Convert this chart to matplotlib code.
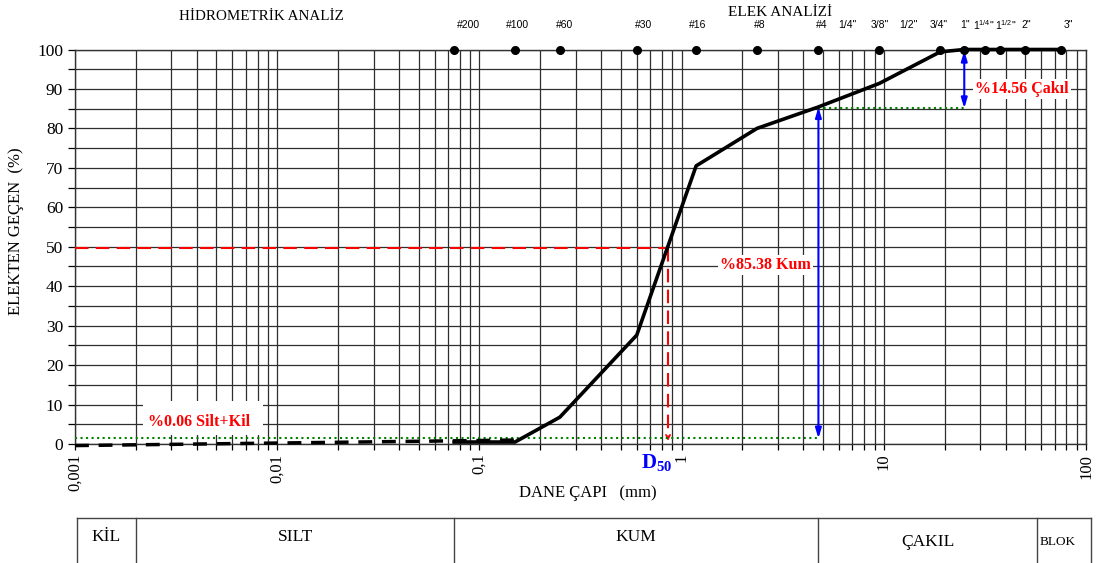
import numpy as np
import matplotlib.pyplot as plt
from matplotlib.patches import Rectangle
from matplotlib.lines import Line2D
from matplotlib.transforms import blended_transform_factory

plt.rcParams['font.family'] = ['Liberation Serif', 'DejaVu Serif']
plt.rcParams['mathtext.fontset'] = 'custom'
plt.rcParams['mathtext.rm'] = 'Liberation Sans'
plt.rcParams['mathtext.bf'] = 'Liberation Serif:bold'

# sieve analysis (grain size mm, % passing)
sieve_mm = [75, 50, 37.5, 31.5, 25, 19, 9.5, 4.75, 2.36, 1.18, 0.6, 0.25, 0.15, 0.075]
passing = [100, 100, 100, 100, 100, 99.4, 91.4, 85.44, 80.0, 70.5, 27.6, 6.8, 0.5, 0.5]

# hydrometer part (dashed)
hydro_mm = [0.001, 0.15]
hydro_pass = [-0.4, 1.0]

# sieve names on top and where their labels sit (mm)
sieve_names = ['#200', '#100', '#60', '#30', '#16', '#8', '#4', '1/4"', '3/8"', '1/2"',
               '3/4"', '1"', '1$^{1/4}$"', '1$^{1/2}$"', '2"', '3"']
label_mm = [0.088, 0.1535, 0.265, 0.652, 1.206, 2.44, 4.95, 6.58, 9.57, 13.3,
            18.7, 25.2, 31.3, 39.9, 50.5, 81.4]
dot_sizes = [0.075, 0.15, 0.25, 0.6, 1.18, 2.36, 4.75, 9.5, 19, 25, 31.5, 37.5, 50, 75]

d50 = 0.857
fines_line = 1.4
gravel_line = 85.1
no4 = 4.75
one_inch = 25

# soil classes table under the chart
class_edges = [0.001023, 0.002, 0.075, 4.75, 57, 105.8]
class_names = ['KİL', 'SILT', 'KUM', 'ÇAKIL', 'BLOK']

W, H = 1097, 563
fig = plt.figure(figsize=(W / 100, H / 100), dpi=100)
ax = fig.add_axes([75 / W, (H - 444) / H, 1011 / W, 394.5 / H])

ax.set_xscale('log')
ax.set_xlim(0.001, 100)
ax.set_ylim(0, 100)

ax.set_xticks([0.001, 0.01, 0.1, 1, 10, 100])
ax.set_xticklabels(['0,001', '0,01', '0,1', '1', '10', '100'], rotation=90, fontsize=12)
ax.set_yticks(np.arange(0, 101, 10))
ax.set_yticks(np.arange(5, 100, 10), minor=True)
ax.tick_params(axis='y', labelsize=12.5, length=5, which='both', width=0.9)
ax.tick_params(axis='x', which='both', length=4, width=0.9, pad=3)
ax.tick_params(axis='x', which='minor', labelbottom=False)
ax.grid(True, which='both', color='#2e2e2e', lw=0.9)
for s in ax.spines.values():
    s.set_color('#333333')
    s.set_linewidth(1)

# curves
ax.plot(hydro_mm, hydro_pass, color='black', lw=2.5, ls=(0, (4, 2.8)), zorder=5, clip_on=False)
ax.plot(sieve_mm, passing, color='black', lw=2.6, zorder=6, clip_on=False)
ax.plot(dot_sizes, [100] * len(dot_sizes), 'o', color='black', ms=5.5, zorder=7, clip_on=False)

for name, s in zip(sieve_names, label_mm):
    ax.text(s, 106.2, name, family='Liberation Sans', fontsize=7.5,
            ha='center', va='center', clip_on=False)

# D50 lines
ax.plot([0.001, d50], [49.8, 49.8], color='red', lw=1.5, ls=(0, (6.5, 3.5)), zorder=4)
ax.plot([d50, d50], [49.8, 1.5], color='red', lw=1.5, ls=(0, (6.5, 3.5)), zorder=4)
ax.annotate('', xy=(d50, 0.1), xytext=(d50, 2.5),
            arrowprops=dict(arrowstyle='->,head_length=0.3,head_width=0.15', color='red', lw=1.2),
            zorder=4)
ax.text(d50 * 0.88, -4.6, r'$\mathbf{D_{50}}$', color='blue', fontsize=15,
        ha='center', va='center', clip_on=False)

# green reference lines
ax.plot([0.001, no4], [fines_line, fines_line], color='green', lw=1.5, ls=':', zorder=4)
ax.plot([no4, one_inch], [gravel_line, gravel_line], color='green', lw=1.5, ls=':', zorder=4)

# blue arrows
arw = dict(arrowstyle='<|-|>,head_length=0.6,head_width=0.18', color='blue', lw=1.5,
           shrinkA=0, shrinkB=0)
ax.annotate('', xy=(no4, 85.4), xytext=(no4, fines_line), arrowprops=arw, zorder=6)
ax.annotate('', xy=(one_inch, 99.7), xytext=(one_inch, gravel_line), arrowprops=arw, zorder=6)

# percentage labels
ax.text(2.60, 45.4, '%85.38 Kum', color='red', fontsize=11.5, fontweight='bold',
        ha='center', va='center', zorder=8,
        bbox=dict(facecolor='white', edgecolor='none', pad=1.5))
ax.text(48.1, 90, '%14.56 Çakıl', color='red', fontsize=11.5, fontweight='bold',
        ha='center', va='center', zorder=8,
        bbox=dict(facecolor='white', edgecolor='none', pad=1.5))
ax.add_patch(Rectangle((0.00217, 2.3), 0.00852 - 0.00217, 8.7, facecolor='white',
                       edgecolor='none', zorder=3))
ax.text(0.0041, 5.7, '%0.06 Silt+Kil', color='red', fontsize=11.5, fontweight='bold',
        ha='center', va='center', zorder=8)

# titles and axis labels
fig.text(261 / W, 1 - 16 / H, 'HİDROMETRİK ANALİZ', fontsize=10.8, ha='center', va='center')
fig.text(780 / W, 1 - 12 / H, 'ELEK ANALİZİ', fontsize=11, ha='center', va='center')
fig.text(16 / W, (H - 231) / H, 'ELEKTEN GEÇEN  (%)', fontsize=12, rotation=90,
         ha='center', va='center')
fig.text(588 / W, (H - 493) / H, 'DANE ÇAPI   (mm)', fontsize=12, ha='center', va='center')

# soil class table
tr = blended_transform_factory(ax.transData, fig.transFigure)
top = (H - 518) / H
fig.add_artist(Line2D([class_edges[0], class_edges[-1]], [top, top], transform=tr,
                      color='#444444', lw=1))
for e in class_edges:
    fig.add_artist(Line2D([e, e], [0, top], transform=tr, color='#444444', lw=1))
for i, name in enumerate(class_names):
    xc = np.sqrt(class_edges[i] * class_edges[i + 1])
    fs = 9.5 if name == 'BLOK' else 12.5
    yc = (H - 542) / H if name in ('ÇAKIL', 'BLOK') else (H - 537) / H
    if name == 'BLOK':
        xc = xc * 0.93
    fig.text(xc, yc, name, transform=tr, fontsize=fs, ha='center', va='center')

fig.savefig('out.png', dpi=100)
